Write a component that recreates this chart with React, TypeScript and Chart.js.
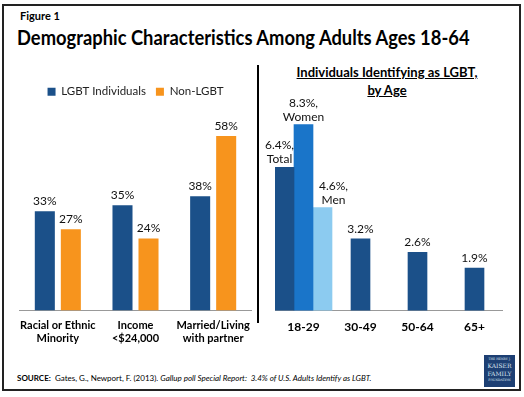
import React, { useEffect, useRef } from "react";
import { Chart, registerables } from "chart.js";

Chart.register(...registerables);

// ---------- data ----------
const leftCategories: string[][] = [
  ["Racial or Ethnic", "Minority"],
  ["Income", "<$24,000"],
  ["Married/Living", "with partner"],
];
const leftSeriesNames = ["LGBT Individuals", "Non-LGBT"];
const lgbtValues = [33, 35, 38];
const nonLgbtValues = [27, 24, 58];

const ageCategories = ["18-29", "30-49", "50-64", "65+"];
const ageSeriesNames = ["Total", "Women", "Men"];
const totalValues: (number | null)[] = [6.4, 3.2, 2.6, 1.9];
const womenValues: (number | null)[] = [8.3, null, null, null];
const menValues: (number | null)[] = [4.6, null, null, null];

// ---------- styles ----------
const FONT = "Lato, 'Open Sans', sans-serif";
const DARK_BLUE = "#1b5089";
const ORANGE = "#f7941d";
const MID_BLUE = "#1a75c9";
const LIGHT_BLUE = "#8ccbf0";

const noSidePadding = (scale: any) => {
  scale.paddingLeft = 0;
  scale.paddingRight = 0;
};

const leftLabelPlugin = {
  id: "leftLabels",
  afterDatasetsDraw(chart: any) {
    const ctx = chart.ctx;
    ctx.save();
    ctx.font = `12px ${FONT}`;
    ctx.fillStyle = "#111";
    ctx.textAlign = "center";
    ctx.textBaseline = "alphabetic";
    chart.data.datasets.forEach((ds: any, di: number) => {
      const meta = chart.getDatasetMeta(di);
      meta.data.forEach((el: any, i: number) => {
        const v = ds.data[i];
        if (v == null) return;
        ctx.fillText(`${v}%`, el.x, el.y - 6);
      });
    });
    ctx.restore();
  },
};

const ageLabelDx = [-5, 0, 11];
const ageLabelPlugin = {
  id: "ageLabels",
  afterDatasetsDraw(chart: any) {
    const ctx = chart.ctx;
    ctx.save();
    ctx.font = `12px ${FONT}`;
    ctx.fillStyle = "#111";
    ctx.textAlign = "center";
    ctx.textBaseline = "alphabetic";
    chart.data.datasets.forEach((ds: any, di: number) => {
      const meta = chart.getDatasetMeta(di);
      meta.data.forEach((el: any, i: number) => {
        const v = ds.data[i];
        if (v == null) return;
        const txt = `${v.toFixed(1)}%`;
        if (i === 0) {
          const x = el.x + ageLabelDx[di];
          ctx.fillText(txt + ",", x, el.y - 18);
          ctx.fillText(ds.label, x, el.y - 4);
        } else {
          ctx.fillText(txt, el.x, el.y - 6);
        }
      });
    });
    ctx.restore();
  },
};

function LeftChart() {
  const ref = useRef<HTMLCanvasElement>(null);
  useEffect(() => {
    const chart = new Chart(ref.current as HTMLCanvasElement, {
      type: "bar",
      data: {
        labels: leftCategories as any,
        datasets: [
          { label: leftSeriesNames[0], data: lgbtValues, backgroundColor: DARK_BLUE },
          { label: leftSeriesNames[1], data: nonLgbtValues, backgroundColor: ORANGE },
        ],
      },
      options: {
        animation: false,
        responsive: false,
        maintainAspectRatio: false,
        layout: { padding: 0 },
        datasets: { bar: { categoryPercentage: 0.67, barPercentage: 0.77 } } as any,
        plugins: {
          legend: {
            display: true,
            position: "top",
            labels: {
              boxWidth: 8,
              boxHeight: 8,
              padding: 10,
              color: "#222",
              font: { family: FONT, size: 11.5 },
            },
          },
          tooltip: { enabled: false },
        },
        scales: {
          x: {
            afterFit: noSidePadding,
            grid: { display: false, drawTicks: false },
            border: { display: true, color: "#999", width: 1 },
            ticks: {
              color: "#000",
              padding: 8,
              autoSkip: false,
              maxRotation: 0,
              font: { family: FONT, size: 11, weight: "bold" },
            },
          },
          y: { display: false, min: 0, max: 67.5 },
        },
      },
      plugins: [leftLabelPlugin],
    });
    return () => chart.destroy();
  }, []);
  return (
    <canvas
      ref={ref}
      width={233}
      height={277}
      style={{ position: "absolute", left: 19, top: 76, width: 233, height: 277 }}
    />
  );
}

function AgeChart() {
  const ref = useRef<HTMLCanvasElement>(null);
  useEffect(() => {
    const chart = new Chart(ref.current as HTMLCanvasElement, {
      type: "bar",
      data: {
        labels: ageCategories,
        datasets: [
          { label: ageSeriesNames[0], data: totalValues, backgroundColor: DARK_BLUE },
          { label: ageSeriesNames[1], data: womenValues, backgroundColor: MID_BLUE },
          { label: ageSeriesNames[2], data: menValues, backgroundColor: LIGHT_BLUE },
        ],
      },
      options: {
        animation: false,
        responsive: false,
        maintainAspectRatio: false,
        layout: { padding: { top: 19, left: 13, right: 0, bottom: 0 } },
        datasets: { bar: { barThickness: 19, skipNull: true } } as any,
        plugins: {
          legend: { display: false },
          tooltip: { enabled: false },
        },
        scales: {
          x: {
            afterFit: noSidePadding,
            grid: { display: false, drawTicks: false },
            border: { display: true, color: "#999", width: 1 },
            ticks: {
              color: "#000",
              padding: 9,
              autoSkip: false,
              maxRotation: 0,
              font: { family: FONT, size: 12, weight: "bold" },
            },
          },
          y: { display: false, min: 0, max: 9 },
        },
      },
      plugins: [ageLabelPlugin],
    });
    return () => chart.destroy();
  }, []);
  return (
    <canvas
      ref={ref}
      width={241}
      height={253}
      style={{ position: "absolute", left: 262, top: 90, width: 241, height: 253 }}
    />
  );
}

export default function App() {
  return (
    <div
      style={{
        position: "absolute",
        left: 0,
        top: 0,
        width: 524,
        height: 397,
        background: "#fff",
        fontFamily: FONT,
        overflow: "hidden",
      }}
    >
      <div
        style={{
          position: "absolute",
          left: 2,
          top: 4,
          width: 515,
          height: 383,
          border: "2px solid #222",
        }}
      />
      <div
        style={{
          position: "absolute",
          left: 20,
          top: 9,
          fontSize: 11,
          fontWeight: 700,
          color: "#000",
        }}
      >
        Figure 1
      </div>
      <div
        style={{
          position: "absolute",
          left: 17,
          top: 24,
          fontSize: 21,
          fontWeight: 700,
          color: "#000",
          whiteSpace: "nowrap",
          transform: "scaleX(0.874)",
          transformOrigin: "0 0",
        }}
      >
        Demographic Characteristics Among Adults Ages 18-64
      </div>
      <div
        style={{
          position: "absolute",
          left: 257,
          top: 65,
          width: 2,
          height: 258,
          background: "#000",
        }}
      />
      <div
        style={{
          position: "absolute",
          left: 287,
          top: 63,
          width: 200,
          textAlign: "center",
          fontSize: 13,
          fontWeight: 700,
          lineHeight: "18px",
          textDecoration: "underline",
          color: "#000",
        }}
      >
        Individuals Identifying as LGBT,
        <br />
        by Age
      </div>
      <LeftChart />
      <AgeChart />
      <div
        style={{
          position: "absolute",
          left: 17,
          top: 373,
          fontSize: 8,
          color: "#000",
          whiteSpace: "nowrap",
        }}
      >
        <b>SOURCE:</b>&nbsp; Gates, G., Newport, F. (2013). <i>Gallup poll Special Report:&nbsp; 3.4% of U.S. Adults Identify as LGBT.</i>
      </div>
      <div
        style={{
          position: "absolute",
          left: 484,
          top: 355,
          width: 31,
          height: 32,
          background: "#1d3f73",
          color: "#dfe6f0",
          fontFamily: "'DejaVu Serif', serif",
          textAlign: "center",
          overflow: "hidden",
        }}
      >
        <div style={{ fontSize: 3, lineHeight: "5px", marginTop: 2 }}>THE HENRY J.</div>
        <div style={{ fontSize: 6, lineHeight: "8px" }}>KAISER</div>
        <div style={{ fontSize: 6, lineHeight: "8px" }}>FAMILY</div>
        <div style={{ fontSize: 3, lineHeight: "5px" }}>FOUNDATION</div>
      </div>
    </div>
  );
}
